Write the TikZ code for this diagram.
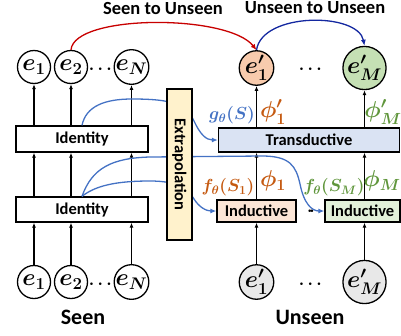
\RequirePackage{fix-cm}
\documentclass[tikz,border=0pt]{standalone}
\usepackage{amsmath,bm}
\usepackage[no-math]{fontspec}
\setmainfont{Carlito}
\usetikzlibrary{arrows.meta}
\definecolor{cblue}{RGB}{68,114,196}
\definecolor{cred}{RGB}{200,0,0}
\definecolor{cdblue}{RGB}{20,40,160}
\definecolor{corange}{RGB}{197,90,17}
\definecolor{cgreen}{RGB}{96,150,60}
\definecolor{forange}{RGB}{248,203,173}
\definecolor{fgreen}{RGB}{197,224,180}
\definecolor{fgray}{RGB}{232,232,232}
\definecolor{fltblue}{RGB}{218,227,243}
\definecolor{fltorange}{RGB}{251,229,214}
\definecolor{fltgreen}{RGB}{226,240,217}
\definecolor{fyellow}{RGB}{255,242,204}
\begin{document}
\begin{tikzpicture}[x=1pt,y=-1pt,
  circ/.style={circle, draw, line width=1.3pt, minimum size=33pt, inner sep=0pt, font=\fontsize{24}{24}\selectfont\boldmath},
  box/.style={draw, line width=1.3pt, inner sep=0pt, font=\bfseries\fontsize{16.5}{16.5}\selectfont},
  arr/.style={-{Latex[length=5pt,width=4pt]}, line width=1.2pt},
  bl/.style={draw=cblue, line width=1.3pt, -{Latex[length=6pt,width=5pt]}},
  lab/.style={font=\fontsize{23}{23}\selectfont\boldmath, inner sep=0pt},
  ttl/.style={font=\bfseries\fontsize{18.5}{18.5}\selectfont},
  fl/.style={font=\fontsize{17.5}{17.5}\selectfont\boldmath, inner sep=0pt},
  dots/.style={font=\fontsize{17}{17}\selectfont\boldmath, inner sep=0pt}
]
\useasboundingbox (0,0) rectangle (401,335);
% seen circles
\node[circ] (s1) at (34,67) {$e_1$};
\node[circ] (s2) at (71,67) {$e_2$};
\node[circ] (sN) at (131.5,67) {$e_N$};
\node[dots] (sd) at (102,69) {$\cdots$};
\node[circ] (b1) at (34,282) {$e_1$};
\node[circ] (b2) at (71,282) {$e_2$};
\node[circ] (bN) at (131.5,282) {$e_N$};
\node[dots] (bd) at (102,284) {$\cdots$};
% identity boxes
\node[box, minimum width=132pt, minimum height=26pt] (idt) at (82,139) {Identity};
\node[box, minimum width=132pt, minimum height=25pt] (idb) at (82,209.5) {Identity};
% unseen
\node[circ, fill=forange] (t1) at (256.5,68) {$e'_1$};
\node[circ, fill=fgreen] (tM) at (364.5,68) {$e'_M$};
\node[dots] (td) at (312,69) {$\cdots$};
\node[circ, fill=fgray] (u1) at (256.5,282) {$e'_1$};
\node[circ, fill=fgray] (uM) at (364.5,282) {$e'_M$};
\node[dots] (ud) at (312,284) {$\cdots$};
\node[box, fill=fltblue, minimum width=181pt, minimum height=24pt] (tr) at (309,140) {Transductive};
\node[box, fill=fltorange, minimum width=79pt, minimum height=22pt] (in1) at (256.5,211) {Inductive};
\node[box, fill=fltgreen, minimum width=75pt, minimum height=22pt] (inM) at (362.5,211) {Inductive};
\node[dots] (id) at (311,211) {$\cdot\!\cdot$};
% vertical arrows seen
\foreach \n in {1,2,N}{
  \draw[arr] (b\n.north) -- (b\n.north |- idb.south);
  \draw[arr] (b\n.north |- idb.north) -- (b\n.north |- idt.south);
  \draw[arr] (b\n.north |- idt.north) -- (s\n.south);
}
% vertical arrows unseen
\draw[arr] (u1.north) -- (in1.south);
\draw[arr] (in1.north) -- (in1.north |- tr.south);
\draw[arr] (t1.south |- tr.north) -- (t1.south);
\draw[arr] (uM.north) -- (uM.north |- inM.south);
\draw[arr] (uM.north |- inM.north) -- (uM.north |- tr.south);
\draw[arr] (tM.south |- tr.north) -- (tM.south);
% blue curves
\draw[bl] (idt.north) .. controls (86,106) and (105,99) .. (132,99)
  .. controls (172,99) and (186,104) .. (194,121)
  .. controls (200,134) and (206,140) .. (tr.west);
\draw[bl] (idb.north) .. controls (92,168) and (112,158) .. (150,157)
  -- (262,156) .. controls (290,156) and (296,166) .. (300,184)
  .. controls (304,204) and (312,211) .. (inM.west);
\draw[bl] (idb.north) .. controls (95,186) and (115,181) .. (150,181)
  .. controls (178,181) and (188,189) .. (194,199)
  .. controls (199,207) and (206,211) .. (in1.west);
% extrapolation
\node[box, fill=fyellow, minimum width=151pt, minimum height=25pt, rotate=-90] (ex) at (179.5,164.5) {Extrapolation};
% top arcs
\draw[draw=cred, line width=1.3pt, -{Latex[length=6pt,width=5pt]}] (s2.north) .. controls (74,14) and (228,14) .. (t1.north);
\draw[draw=cdblue, line width=1.3pt, -{Latex[length=6pt,width=5pt]}] (t1.north) .. controls (262,12) and (358,12) .. (tM.north);
% labels
\node[ttl] (l1) at (163,8) {Seen to Unseen};
\node[ttl] (l2) at (315,8) {Unseen to Unseen};
\node[font=\bfseries\fontsize{22}{22}\selectfont] (l3) at (83,317) {Seen};
\node[font=\bfseries\fontsize{22}{22}\selectfont] (l4) at (310,317) {Unseen};
\node[lab, text=corange] (p1p) at (273,112) {$\phi'_1$};
\node[lab, text=cgreen] (pMp) at (383,112) {$\phi'_M$};
\node[lab, text=corange] (p1) at (273,181) {$\phi_1$};
\node[lab, text=cgreen] (pM) at (382,181) {$\phi_M$};
\node[fl, text=cblue] (g) at (232,115) {$g_\theta(S)$};
\node[fl, text=corange] (f1) at (228,187) {$f_\theta(S_1)$};
\node[fl, text=cgreen] (fM) at (334,187) {$f_\theta(S_M)$};
\end{tikzpicture}
\end{document}
